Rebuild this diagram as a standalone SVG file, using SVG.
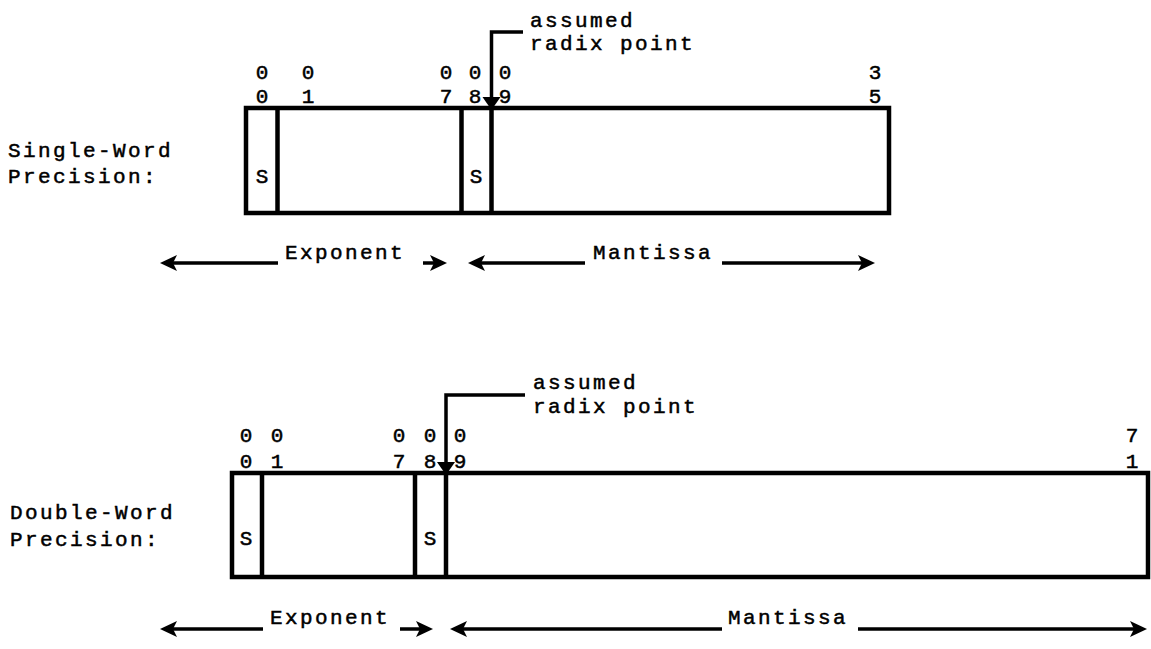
<svg xmlns="http://www.w3.org/2000/svg" xmlns:xlink="http://www.w3.org/1999/xlink" width="1151" height="649" viewBox="0 0 1151 649">
<defs>
<style>
text{font-family:"Liberation Mono","DejaVu Sans Mono",monospace;font-size:21px;fill:#000;stroke:#000;stroke-width:0.5}
.t{letter-spacing:2.4px}
.d{text-anchor:middle}
.box{fill:none;stroke:#000;stroke-width:4.5}
.div{stroke:#000;stroke-width:4.5}
.arr{fill:none;stroke:#000;stroke-width:3.5}
.ptr{fill:none;stroke:#000;stroke-width:3.5}
.hd{fill:#000}
</style>
<path id="hr" d="M0,0 L-17,-8 L-13,0 L-17,8 z"/>
<path id="hdn" d="M0,0 L-9,-13 L9,-13 z"/>
</defs>
<rect width="1151" height="649" fill="#fff"/>

<g id="single-label">
<text class="t" x="8" y="157">Single-Word</text>
<text class="t" x="8" y="183">Precision:</text>
</g>

<g id="single-word">
<rect class="box" x="246" y="108" width="643" height="105"/>
<line class="div" x1="277.5" y1="108" x2="277.5" y2="213"/>
<line class="div" x1="461.5" y1="108" x2="461.5" y2="213"/>
<line class="div" x1="491.5" y1="108" x2="491.5" y2="213"/>
<text class="d" x="262" y="183">S</text>
<text class="d" x="476" y="183">S</text>
<text class="d" x="262" y="79">0</text><text class="d" x="262" y="103">0</text>
<text class="d" x="308" y="79">0</text><text class="d" x="308" y="103">1</text>
<text class="d" x="446" y="79">0</text><text class="d" x="446" y="103">7</text>
<text class="d" x="475" y="79">0</text><text class="d" x="475" y="103">8</text>
<text class="d" x="505" y="79">0</text><text class="d" x="505" y="103">9</text>
<text class="d" x="875" y="79">3</text><text class="d" x="875" y="103">5</text>
</g>

<g id="single-radix">
<text class="t" x="530" y="27">assumed</text>
<text class="t" x="530" y="50">radix point</text>
</g>

<g id="single-fields">
<text class="t" x="285" y="259">Exponent</text>
<text class="t" x="593" y="259">Mantissa</text>
</g>

<g id="double-label">
<text class="t" x="10" y="519">Double-Word</text>
<text class="t" x="10" y="546">Precision:</text>
</g>

<g id="double-word">
<rect class="box" x="232" y="473" width="916" height="104"/>
<line class="div" x1="262" y1="473" x2="262" y2="577"/>
<line class="div" x1="415" y1="473" x2="415" y2="577"/>
<line class="div" x1="446" y1="473" x2="446" y2="577"/>
<text class="d" x="246" y="545">S</text>
<text class="d" x="430" y="545">S</text>
<text class="d" x="246" y="442">0</text><text class="d" x="246" y="468">0</text>
<text class="d" x="277" y="442">0</text><text class="d" x="277" y="468">1</text>
<text class="d" x="399" y="442">0</text><text class="d" x="399" y="468">7</text>
<text class="d" x="430" y="442">0</text><text class="d" x="430" y="468">8</text>
<text class="d" x="460" y="442">0</text><text class="d" x="460" y="468">9</text>
<text class="d" x="1132" y="442">7</text><text class="d" x="1132" y="468">1</text>
</g>

<g id="double-radix">
<text class="t" x="533" y="389">assumed</text>
<text class="t" x="533" y="413">radix point</text>
</g>

<g id="double-fields">
<text class="t" x="270" y="624">Exponent</text>
<text class="t" x="728" y="624">Mantissa</text>
</g>

<g id="connectors">
<polyline class="ptr" points="523,32 491.5,32 491.5,100"/>
<use class="hd" xlink:href="#hdn" href="#hdn" x="491.5" y="110"/>
<polyline class="ptr" points="525,395 446,395 446,465"/>
<use class="hd" xlink:href="#hdn" href="#hdn" x="446" y="475"/>

<line class="arr" x1="278" y1="263" x2="170" y2="263"/>
<use class="hd" xlink:href="#hr" href="#hr" transform="translate(160,263) scale(-1,1)"/>
<line class="arr" x1="423" y1="263" x2="437" y2="263"/>
<use class="hd" xlink:href="#hr" href="#hr" transform="translate(447,263)"/>
<line class="arr" x1="585" y1="263" x2="478" y2="263"/>
<use class="hd" xlink:href="#hr" href="#hr" transform="translate(468,263) scale(-1,1)"/>
<line class="arr" x1="722" y1="263" x2="865" y2="263"/>
<use class="hd" xlink:href="#hr" href="#hr" transform="translate(875,263)"/>

<line class="arr" x1="263" y1="629" x2="170" y2="629"/>
<use class="hd" xlink:href="#hr" href="#hr" transform="translate(160,629) scale(-1,1)"/>
<line class="arr" x1="400" y1="629" x2="423" y2="629"/>
<use class="hd" xlink:href="#hr" href="#hr" transform="translate(433,629)"/>
<line class="arr" x1="722" y1="629" x2="460" y2="629"/>
<use class="hd" xlink:href="#hr" href="#hr" transform="translate(450,629) scale(-1,1)"/>
<line class="arr" x1="858" y1="629" x2="1137" y2="629"/>
<use class="hd" xlink:href="#hr" href="#hr" transform="translate(1147,629)"/>
</g>
</svg>
